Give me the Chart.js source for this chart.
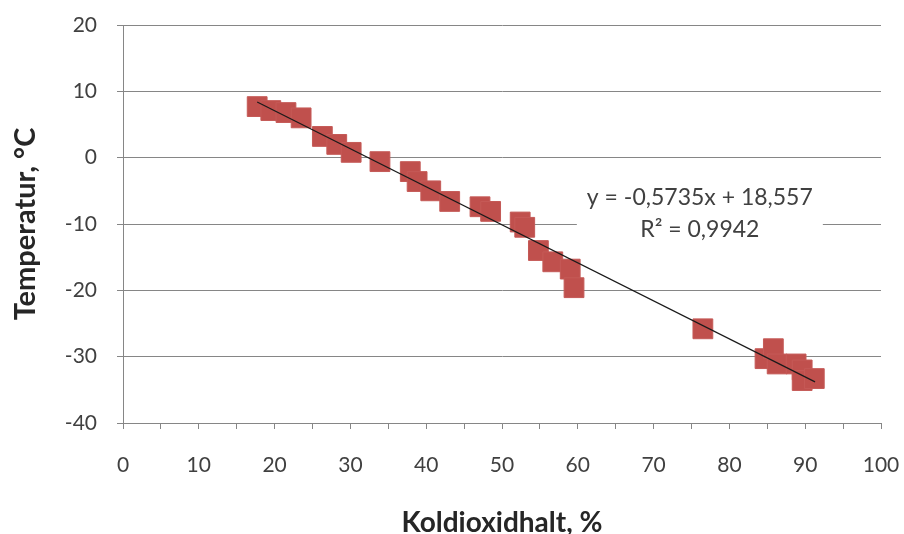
<!DOCTYPE html>
<html lang="sv">
<head>
<meta charset="UTF-8">
<title>Temperatur mot koldioxidhalt</title>
<script src="https://cdn.jsdelivr.net/npm/chart.js"></script>
<style>
    body { margin: 0; background: #fff; }
    #wrap { width: 904px; height: 534px; position: relative; }
</style>
</head>
<body>
<div id="wrap"><canvas id="chart" width="904" height="534"></canvas></div>
<script>
// measured points (x = Koldioxidhalt %, y = Temperatur °C)
const koldioxid = [17.7, 19.5, 21.5, 23.5, 26.3, 28.2, 30.1, 33.9, 37.9, 38.8,
                   40.6, 43.1, 47.1, 48.5, 52.4, 53.0, 54.8, 56.7, 59.0, 59.5,
                   76.5, 84.7, 85.8, 86.3, 88.8, 89.6, 89.6, 91.2];
const temperatur = [7.7, 7.1, 6.8, 6.0, 3.2, 2.0, 0.8, -0.6, -2.1, -3.6,
                    -5.0, -6.6, -7.4, -8.1, -9.7, -10.5, -14.0, -15.7, -16.8, -19.6,
                    -25.8, -30.3, -28.8, -31.1, -31.1, -32.0, -33.6, -33.3];

// trend line end points
const trendX = [17.7, 91.3];
const trendY = [8.4, -33.8];
const trendText = ['y = -0,5735x + 18,557', 'R² = 0,9942'];

const axisGrey = '#868686';
const font = 'Lato, "Open Sans", sans-serif';

const points = koldioxid.map((x, i) => ({ x: x, y: temperatur[i] }));
const trend = trendX.map((x, i) => ({ x: x, y: trendY[i] }));

// equation label with white box, like the Excel trendline label
const trendLabel = {
    id: 'trendLabel',
    beforeDatasetsDraw(chart) {
        const ctx = chart.ctx;
        const cx = chart.scales.x.getPixelForValue(76.1);
        const cy = chart.scales.y.getPixelForValue(-8.4);
        ctx.save();
        ctx.fillStyle = '#fff';
        ctx.fillRect(cx - 123, cy - 32, 246, 64);
        ctx.fillStyle = '#404040';
        ctx.font = '23px ' + font;
        ctx.textAlign = 'center';
        ctx.textBaseline = 'middle';
        ctx.fillText(trendText[0], cx, cy - 16);
        ctx.fillText(trendText[1], cx, cy + 16);
        ctx.restore();
    }
};

new Chart(document.getElementById('chart'), {
    type: 'scatter',
    data: {
        datasets: [{
            type: 'line',
            data: trend,
            borderColor: '#1a1a1a',
            borderWidth: 1.2,
            pointRadius: 0,
            fill: false,
            order: 0
        }, {
            data: points,
            pointStyle: 'rect',
            pointRadius: 14,
            pointHoverRadius: 14,
            backgroundColor: '#C0504D',
            borderColor: '#C55A57',
            borderWidth: 1,
            order: 1
        }]
    },
    options: {
        responsive: false,
        animation: false,
        events: [],
        layout: { padding: { top: 25, right: 23, left: 0, bottom: 0 } },
        plugins: { legend: { display: false }, tooltip: { enabled: false } },
        scales: {
            x: {
                type: 'linear',
                min: 0, max: 100,
                border: { color: axisGrey, width: 1 },
                grid: { drawOnChartArea: false, drawTicks: true, tickLength: 6, color: axisGrey },
                ticks: {
                    stepSize: 5,
                    autoSkip: false,
                    maxRotation: 0,
                    padding: 24,
                    color: '#404040',
                    font: { family: font, size: 21 },
                    callback: v => (v % 10 === 0 ? v : '')
                },
                title: {
                    display: true,
                    text: 'Koldioxidhalt, %',
                    color: '#262626',
                    font: { family: font, size: 28, weight: 'bold' },
                    padding: { top: 26, bottom: -6 }
                },
                afterFit(scale) {
                    scale.height = 111;
                    scale.paddingLeft = 0;
                    scale.paddingRight = 0;
                }
            },
            y: {
                type: 'linear',
                min: -40, max: 20,
                border: { color: axisGrey, width: 1 },
                grid: { drawOnChartArea: true, drawTicks: true, tickLength: 6, color: axisGrey, lineWidth: 1 },
                ticks: {
                    stepSize: 10,
                    padding: 20,
                    color: '#404040',
                    font: { family: font, size: 21 }
                },
                title: {
                    display: true,
                    text: 'Temperatur, °C',
                    color: '#262626',
                    font: { family: font, size: 29, weight: 'bold' },
                    padding: { top: 8, bottom: 10 }
                },
                afterFit(scale) {
                    scale.width = 123;
                    scale.paddingTop = 0;
                    scale.paddingBottom = 0;
                }
            }
        }
    },
    plugins: [trendLabel]
});
</script>
</body>
</html>
